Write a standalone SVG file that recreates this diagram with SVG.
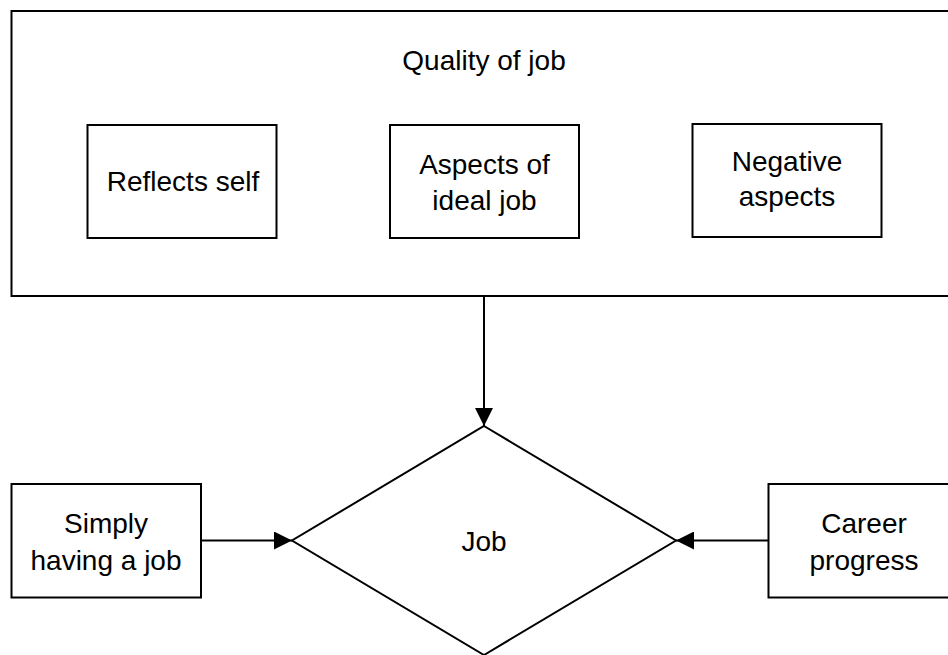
<svg xmlns="http://www.w3.org/2000/svg" width="948" height="655" viewBox="0 0 948 655">
  <style>
    .box { fill: #ffffff; stroke: #000000; stroke-width: 2; }
    .lbl { font-family: "Liberation Sans", Arial, sans-serif; font-size: 28px; fill: #000000; text-anchor: middle; }
    .edge { stroke: #000000; stroke-width: 2; fill: none; }
  </style>
  <defs>
    <marker id="arrow" viewBox="0 0 18 18" refX="18" refY="9" markerWidth="18" markerHeight="18" markerUnits="userSpaceOnUse" orient="auto">
      <path d="M0,0 L18,9 L0,18 Z" fill="#000000"/>
    </marker>
  </defs>
  <rect width="948" height="655" fill="#ffffff"/>

  <g id="quality-of-job">
    <rect class="box" x="11.5" y="11" width="946" height="285"/>
    <text class="lbl" x="484" y="70">Quality of job</text>
  </g>

  <g id="reflects-self">
    <rect class="box" x="87.5" y="125" width="189" height="113"/>
    <text class="lbl" x="183" y="191">Reflects self</text>
  </g>

  <g id="aspects-of-ideal-job">
    <rect class="box" x="390" y="125" width="189" height="113"/>
    <text class="lbl" x="484.5" y="174">Aspects of</text>
    <text class="lbl" x="484.5" y="210">ideal job</text>
  </g>

  <g id="negative-aspects">
    <rect class="box" x="692.5" y="124" width="189" height="113"/>
    <text class="lbl" x="787" y="171">Negative</text>
    <text class="lbl" x="787" y="206">aspects</text>
  </g>

  <g id="job">
    <polygon class="box" points="484,426 676,540.5 484,655 292,540.5"/>
    <text class="lbl" x="484" y="551">Job</text>
  </g>

  <g id="simply-having-a-job">
    <rect class="box" x="11.5" y="484" width="189.5" height="113.5"/>
    <text class="lbl" x="106" y="533">Simply</text>
    <text class="lbl" x="106" y="570">having a job</text>
  </g>

  <g id="career-progress">
    <rect class="box" x="768.5" y="484" width="192" height="113.5"/>
    <text class="lbl" x="864" y="533">Career</text>
    <text class="lbl" x="864" y="570">progress</text>
  </g>

  <g id="connectors">
    <line class="edge" x1="484" y1="296" x2="484" y2="426" marker-end="url(#arrow)"/>
    <line class="edge" x1="201" y1="540.5" x2="292" y2="540.5" marker-end="url(#arrow)"/>
    <line class="edge" x1="768.5" y1="540.5" x2="676" y2="540.5" marker-end="url(#arrow)"/>
  </g>
</svg>
